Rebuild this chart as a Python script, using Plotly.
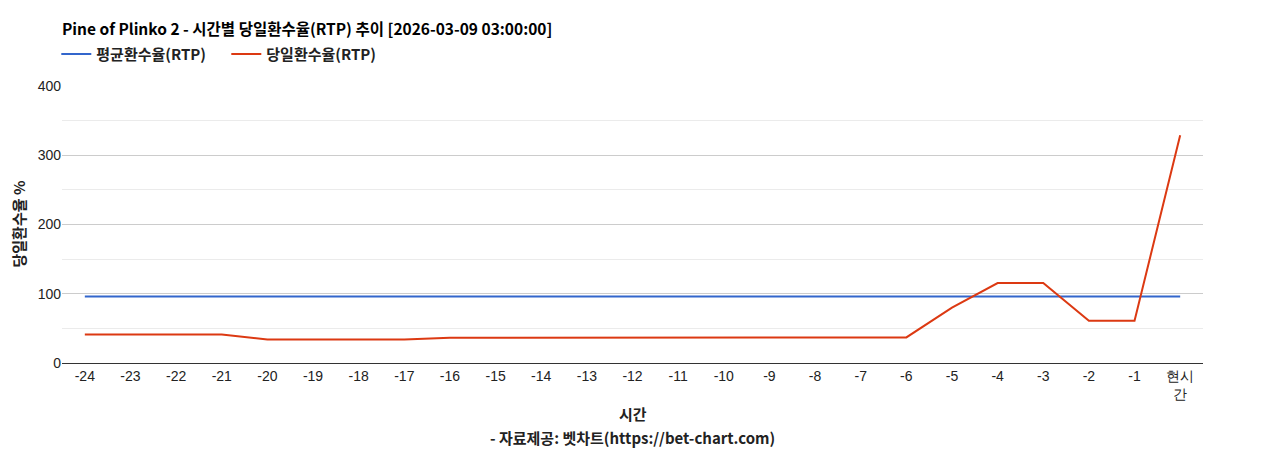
import plotly.graph_objects as go

# hours before now, last one is "now"
hours = ['-24', '-23', '-22', '-21', '-20', '-19', '-18', '-17', '-16', '-15',
         '-14', '-13', '-12', '-11', '-10', '-9', '-8', '-7', '-6', '-5',
         '-4', '-3', '-2', '-1', '현시간']
hour_labels = hours[:-1] + ['현시<br>간']

avg_rtp = [96] * 25
day_rtp = [41, 41, 41, 41, 34, 34, 34, 34, 36.5, 36.5,
           37, 37, 37, 37, 37, 37, 37, 37, 37, 80,
           115.5, 115.5, 61, 61, 329]

title_text = 'Pine of Plinko 2 - 시간별 당일환수율(RTP) 추이 [2026-03-09 03:00:00]'
kfont = 'Noto Sans CJK KR'

# page body has an 8px margin, so the figure is a bit smaller than the window
W, H = 1260, 442

fig = go.Figure()
fig.add_trace(go.Scatter(x=hours, y=avg_rtp, mode='lines', name='<b>평균환수율(RTP)</b>',
                         line=dict(color='#3366cc', width=2)))
fig.add_trace(go.Scatter(x=hours, y=day_rtp, mode='lines', name='<b>당일환수율(RTP)</b>',
                         line=dict(color='#dc3912', width=2)))

fig.update_layout(
    width=W, height=H,
    margin=dict(l=54, r=65, t=78, b=87),
    paper_bgcolor='white', plot_bgcolor='white',
    title=dict(text='<b>' + title_text + '</b>', x=0, xref='paper', xanchor='left',
               y=1 - 22 / H, yref='container', yanchor='middle',
               font=dict(family=kfont, size=15.5, color='#000')),
    legend=dict(orientation='h', x=-0.005, xanchor='left', y=1.115, yanchor='middle',
                font=dict(family=kfont, size=15, color='#222'), itemwidth=30,
                entrywidth=125, entrywidthmode='pixels'),
    showlegend=True,
    hovermode='x',
)
fig.update_xaxes(type='category', tickvals=hours, ticktext=hour_labels,
                 range=[-0.5, 24.5], showgrid=False, showline=True,
                 linecolor='#333', linewidth=1, ticks='',
                 tickfont=dict(family='Liberation Sans', size=14, color='#222'))
fig.update_yaxes(range=[0, 400], dtick=100, showgrid=True, gridcolor='#cccccc',
                 zeroline=False, ticks='',
                 minor=dict(dtick=50, showgrid=True, gridcolor='#ebebeb'),
                 tickfont=dict(family='Liberation Sans', size=14, color='#222'))

fig.add_annotation(text='<b>시간</b>', xref='paper', yref='paper', x=0.5, y=-50 / 277,
                   yanchor='middle', showarrow=False,
                   font=dict(family=kfont, size=15, color='#222'))
fig.add_annotation(text='<b>- 자료제공: 벳차트(https://bet-chart.com)</b>', xref='paper',
                   yref='paper', x=0.5, y=-74 / 277, yanchor='middle', showarrow=False,
                   font=dict(family=kfont, size=15, color='#222'))
fig.add_annotation(text='<b>당일환수율 %</b>', xref='paper', yref='paper', x=-44 / 1141,
                   y=0.5, textangle=-90, showarrow=False, xanchor='center',
                   font=dict(family=kfont, size=15, color='#222'))

fig.write_html('out.html')
